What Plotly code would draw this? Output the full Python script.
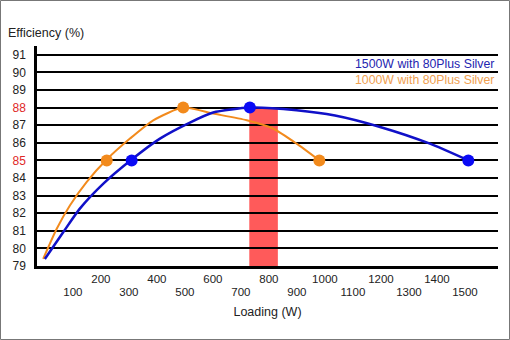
import plotly.graph_objects as go

# ---- data ----
blue_curve_w = [0, 66, 125, 209, 310, 411, 518, 601, 732, 899, 1036, 1197, 1375, 1512]
blue_curve_eff = [79.4, 80.93, 82.26, 83.68, 85.05, 86.24, 87.15, 87.72, 88.0, 87.85, 87.55, 86.9, 85.95, 85.0]
orange_curve_w = [-6, 42, 90, 149, 221, 304, 387, 494, 601, 721, 816, 899, 980]
orange_curve_eff = [79.4, 81.1, 82.45, 83.77, 85.05, 86.24, 87.28, 88.0, 87.66, 87.28, 86.8, 85.95, 85.0]

blue_pts_w = [310, 732, 1512]
blue_pts_eff = [85, 88, 85]
orange_pts_w = [221, 494, 980]
orange_pts_eff = [85, 88, 85]

band_w = [730, 832]
band_eff = [79, 88]

y_ticks = list(range(79, 92))
x_ticks_upper = [200, 400, 600, 800, 1000, 1200, 1400]
x_ticks_lower = [100, 300, 500, 700, 900, 1100, 1300, 1500]
highlight_ticks = [85, 88]

labels = ["1500W with 80Plus Silver", "1000W with 80Plus Silver"]

BLUE_LINE = "#1010c8"
BLUE_MARK = "#0a0af5"
ORANGE = "#f28a1c"
RED = "#ff5a5a"

FONT = "Liberation Sans, Arial, sans-serif"

fig = go.Figure()

fig.add_trace(go.Scatter(x=orange_curve_w, y=orange_curve_eff, mode="lines",
                         line=dict(color=ORANGE, width=2, shape="spline", smoothing=0.6),
                         hoverinfo="skip", showlegend=False))
fig.add_trace(go.Scatter(x=blue_curve_w, y=blue_curve_eff, mode="lines",
                         line=dict(color=BLUE_LINE, width=2.5, shape="spline", smoothing=0.6),
                         hoverinfo="skip", showlegend=False))
fig.add_trace(go.Scatter(x=orange_pts_w, y=orange_pts_eff, mode="markers",
                         marker=dict(color=ORANGE, size=12), name=labels[1], showlegend=False))
fig.add_trace(go.Scatter(x=blue_pts_w, y=blue_pts_eff, mode="markers",
                         marker=dict(color=BLUE_MARK, size=12), name=labels[0], showlegend=False))

# invisible trace to activate second x axis (lower row of tick labels)
fig.add_trace(go.Scatter(x=[blue_pts_w[0]], y=[blue_pts_eff[0]], xaxis="x2", mode="markers",
                         marker=dict(opacity=0), hoverinfo="skip", showlegend=False))

fig.add_shape(type="rect", xref="x", yref="y", x0=band_w[0], x1=band_w[1],
              y0=band_eff[0], y1=band_eff[1], fillcolor=RED, line=dict(width=0), layer="below")

y_text = [f'<span style="color:#e02828">{v}</span>' if v in highlight_ticks else str(v) for v in y_ticks]

xrange = [-28, 1618]

fig.update_layout(
    width=510, height=340,
    margin=dict(l=37, r=12, t=46, b=74, autoexpand=False),
    paper_bgcolor="white", plot_bgcolor="white",
    font=dict(family=FONT, size=12, color="#222222"),
    xaxis=dict(range=xrange, tickvals=x_ticks_upper, ticktext=[str(v) for v in x_ticks_upper],
               showgrid=False, zeroline=False, showline=True, linecolor="black", linewidth=2.5,
               ticks="", ticklabelstandoff=0, tickfont=dict(size=11.5, color="#222222"),
               title=dict(text="Loading (W)", font=dict(size=12.5, color="#222222"), standoff=24)),
    xaxis2=dict(range=xrange, overlaying="x", side="bottom", anchor="y",
                tickvals=x_ticks_lower, ticktext=[str(v) for v in x_ticks_lower],
                showgrid=False, zeroline=False, showline=False, ticks="",
                ticklabelstandoff=17, tickfont=dict(size=11.5, color="#222222")),
    yaxis=dict(range=[79, 91.5], tickvals=y_ticks, ticktext=y_text,
               showgrid=True, gridcolor="black", gridwidth=1.6, zeroline=False,
               showline=True, linecolor="black", linewidth=2.5, ticks="",
               ticklabelstandoff=6, tickfont=dict(size=12, color="#222222")),
    showlegend=False,
)

fig.add_annotation(xref="paper", yref="paper", x=-31/461, y=(266-33)/220, xanchor="left", yanchor="middle",
                   text="Efficiency (%)", showarrow=False, font=dict(size=12.5, color="#222222"))
fig.add_annotation(xref="paper", yref="y", x=(496-37)/461, y=90.48, xanchor="right", yanchor="middle",
                   text=labels[0], showarrow=False, font=dict(size=12.3, color="#2424b0"))
fig.add_annotation(xref="paper", yref="y", x=(496-37)/461, y=89.57, xanchor="right", yanchor="middle",
                   text=labels[1], showarrow=False, font=dict(size=12.3, color="#f0a050"))

# outer grey frame
fig.add_shape(type="rect", xref="paper", yref="paper",
              x0=-36.5/461, x1=472.5/461, y0=-73.5/220, y1=265.5/220,
              line=dict(color="#777777", width=1), fillcolor="rgba(0,0,0,0)")

fig.write_html("out.html")
